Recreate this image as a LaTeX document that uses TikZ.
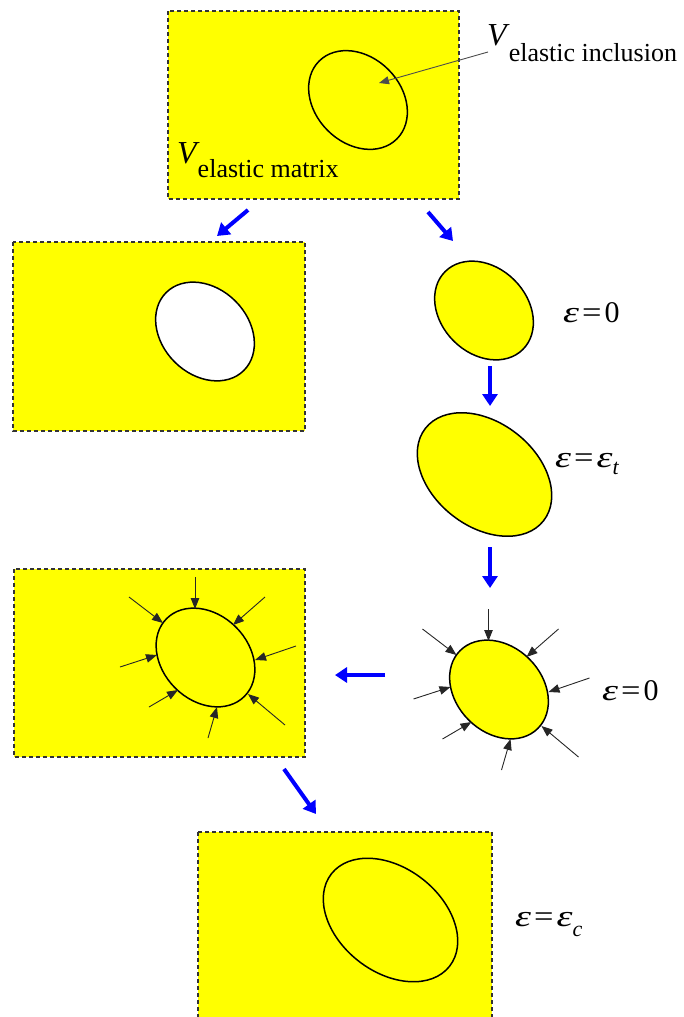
\documentclass[tikz,border=0pt]{standalone}
\usepackage{fontspec}
\setmainfont{Liberation Serif}
\usetikzlibrary{shapes.geometric,arrows.meta}
\definecolor{ylw}{RGB}{255,255,0}
\definecolor{flowblue}{RGB}{0,0,255}
\newcommand\myeps{\scalebox{1.35}[1]{\textit{ε}}}
\newcommand\myeq{\kern3pt\scalebox{1.15}[1]{=}\kern3pt}
\begin{document}
\begin{tikzpicture}[x=1pt,y=-1pt,
  matrixbox/.style={draw=black!80, fill=ylw, dash pattern=on 4pt off 3pt, line width=1.2pt},
  incl/.style={ellipse, draw=black, line width=1.5pt, fill=ylw, inner sep=0pt, minimum width=110pt, minimum height=86pt, rotate=-45},
  bigincl/.style={ellipse, draw=black, line width=1.5pt, fill=ylw, inner sep=0pt, minimum width=150pt, minimum height=104pt, rotate=-38},
  flow/.style={draw=flowblue, line width=4pt, -{Triangle[length=12pt,width=15pt]}},
  pr/.style={draw=black!85, line width=0.9pt, -{Triangle[length=11pt,width=8.5pt]}},
  pin/.style={draw=black!70, line width=0.9pt, -{Triangle[length=10pt,width=8pt]}},
  lab/.style={inner sep=0pt, anchor=base west, font=\fontsize{30}{30}\selectfont},
  vlab/.style={inner sep=0pt, anchor=base west, font=\fontsize{32}{32}\selectfont},
]
\useasboundingbox (0,0) rectangle (684,1017);

% matrix boxes
\draw[matrixbox] (168,11) rectangle (459,199);
\draw[matrixbox] (13,242) rectangle (305,431);
\draw[matrixbox] (14,569) rectangle (305,757);
\draw[matrixbox] (198,832) rectangle (492,1030);

% inclusions
\node[incl] (e0) at (358,100) {};
\node[incl, fill=white] (hole) at (205,331.5) {};
\node[incl] (e1) at (484,310.5) {};
\node[bigincl] (e2) at (484.5,474.5) {};
\node[incl] (e3) at (499,689.5) {};
\node[incl] (e4) at (205.5,657.5) {};
\node[bigincl] (e5) at (390.5,920) {};

% pressure arrows
\foreach \e in {e3,e4}{
  \foreach \sx/\sy/\ex/\ey in {-10.5/-80.5/-10.5/-48.5, -76.5/-60.5/-42.5/-34.5, 59.5/-60.5/27.5/-32.5, 90.5/-11.5/49.5/2.5, -85.5/9.5/-48.5/-2.5, -56.5/49.5/-27.5/32.5, 2.5/80.5/11.5/49.5, 79.5/67.5/42.5/36.5}
    \draw[pr] ([shift={(\sx,\sy)}]\e.center) -- ([shift={(\ex,\ey)}]\e.center);
}

% labels
\node[vlab] (vinc) at (487,45) {{\itshape V}\kern2pt\raisebox{-17pt}{\fontsize{26}{26}\selectfont elastic inclusion}};
\node[vlab] (vmat) at (177,163) {{\itshape V}\kern1pt\raisebox{-14pt}{\fontsize{26}{26}\selectfont elastic matrix}};
\coordinate (pinstart) at (488,52);
\draw[pin] (pinstart) -- ([shift={(21,-17)}]e0.center);

\node[lab] (l1) at (563,322) {\myeps\myeq0};
\node[lab] (l2) at (555,467) {\myeps\myeq\myeps\raisebox{-7pt}{\fontsize{22}{22}\selectfont\itshape t}};
\node[lab] (l3) at (602,700) {\myeps\myeq0};
\node[lab] (l4) at (515,926) {\myeps\myeq\myeps\raisebox{-10pt}{\fontsize{22}{22}\selectfont\itshape c}};

% flow arrows
\coordinate (a1s) at (248,210); \coordinate (a1e) at (217,236);
\coordinate (a2s) at (428,212); \coordinate (a2e) at (453,241);
\coordinate (a3s) at (490,366); \coordinate (a3e) at (490,406);
\coordinate (a4s) at (490,547); \coordinate (a4e) at (490,588);
\coordinate (a5s) at (385,675); \coordinate (a5e) at (335,675);
\coordinate (a6s) at (284,769); \coordinate (a6e) at (316,814);
\draw[flow] (a1s) -- (a1e);
\draw[flow] (a2s) -- (a2e);
\draw[flow] (a3s) -- (a3e);
\draw[flow] (a4s) -- (a4e);
\draw[flow] (a5s) -- (a5e);
\draw[flow] (a6s) -- (a6e);
\end{tikzpicture}
\end{document}
